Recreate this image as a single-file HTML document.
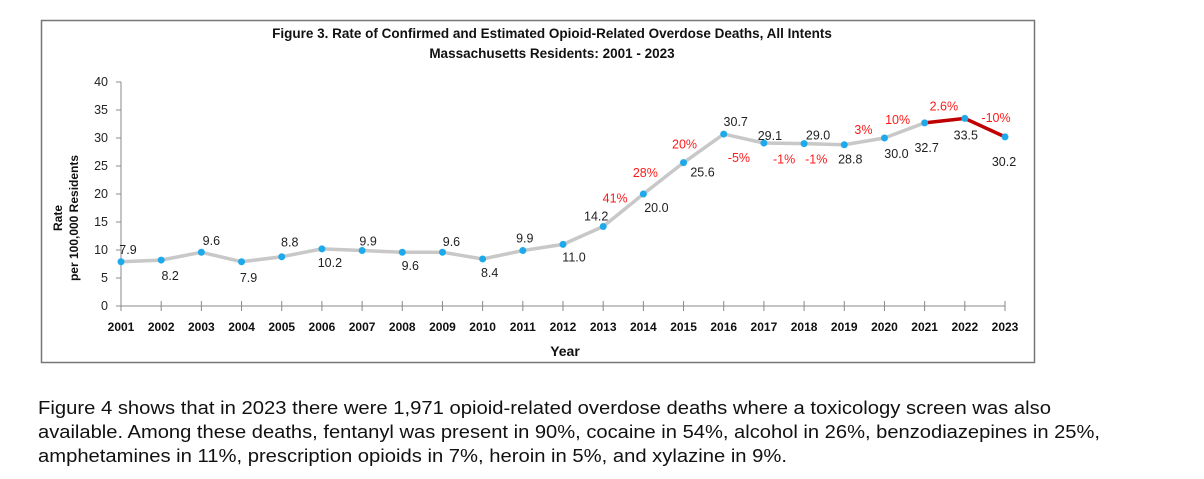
<!DOCTYPE html>
<html><head><meta charset="utf-8"><style>
body{margin:0;width:1204px;height:479px;background:#fff;overflow:hidden;font-family:"Liberation Sans",sans-serif}
</style></head><body>
<svg id="chart" width="1204" height="380" style="position:absolute;left:0;top:0">
<rect x="41.5" y="20.5" width="993" height="342" fill="#fff" stroke="#777" stroke-width="1.5"/>
<text x="552" y="38" text-anchor="middle" font-size="13.5" font-weight="bold" fill="#111">Figure 3. Rate of Confirmed and Estimated Opioid-Related Overdose Deaths, All Intents</text>
<text x="552" y="58" text-anchor="middle" font-size="13.5" font-weight="bold" fill="#111">Massachusetts Residents: 2001 - 2023</text>
<text transform="translate(62,218) rotate(-90)" text-anchor="middle" font-size="12" font-weight="bold" fill="#111">Rate</text>
<text transform="translate(78,218) rotate(-90)" text-anchor="middle" font-size="12" font-weight="bold" fill="#111">per 100,000 Residents</text>
<text x="565" y="356" text-anchor="middle" font-size="14" font-weight="bold" fill="#111">Year</text>
<g id="g"></g>
</svg>
<svg width="1204" height="99" style="position:absolute;left:0;top:380px" font-size="18" fill="#111">
<text x="38" y="34" textLength="1013" lengthAdjust="spacingAndGlyphs">Figure 4 shows that in 2023 there were 1,971 opioid-related overdose deaths where a toxicology screen was also</text>
<text x="38" y="58" textLength="1062" lengthAdjust="spacingAndGlyphs">available.  Among these deaths, fentanyl was present in 90%, cocaine in 54%, alcohol in 26%, benzodiazepines in 25%,</text>
<text x="38" y="82" textLength="749" lengthAdjust="spacingAndGlyphs">amphetamines in 11%, prescription opioids in 7%, heroin in 5%, and xylazine in 9%.</text>
</svg>
<script>
const years=[2001,2002,2003,2004,2005,2006,2007,2008,2009,2010,2011,2012,2013,2014,2015,2016,2017,2018,2019,2020,2021,2022,2023];
const rates=[7.9,8.2,9.6,7.9,8.8,10.2,9.9,9.6,9.6,8.4,9.9,11.0,14.2,20.0,25.6,30.7,29.1,29.0,28.8,30.0,32.7,33.5,30.2];
const pctYears=[2013,2014,2015,2017,2018,2019,2020,2021,2022,2023];
const pctLabels=["41%","28%","20%","-5%","-1%","-1%","3%","10%","2.6%","-10%"];
const yTicks=[0,5,10,15,20,25,30,35,40];
const labelDx=[7,9,10,7,8,8,6,8,9,7,2,11,-7,13,19,12,6,14,6,12,2,1,-1];
const labelDy=[-12,16,-11,16,-14,14,-9,14,-10,14,-12,13,-10,14,10,-12,-7,-8,15,16,25,17,25];
const pctDx=[12,2,1,-25,-20,-28,-21,-27,-21,-9];
const pctDy=[-28,-21,-18,15,16,15,-8,-3,-12,-19];
const NS="http://www.w3.org/2000/svg",g=document.getElementById('g');
const x=i=>121+i*(1005-121)/(years.length-1);
const y=v=>306-v*(224/40);
function mk(t,a,p){const e=document.createElementNS(NS,t);for(const k in a)e.setAttribute(k,a[k]);(p||g).appendChild(e);return e;}
let ax=mk('line',{x1:121,y1:306,x2:1005,y2:306,stroke:'#888'});


let ay=mk('line',{x1:121,y1:306,x2:121,y2:82,stroke:'#888'});


yTicks.forEach(t=>{
  mk('line',{x1:116,x2:121,y1:y(t),y2:y(t),stroke:'#888'});
  const e=mk('text',{x:108,y:y(t)+4,'text-anchor':'end','font-size':12.5,fill:'#222'});e.textContent=t;
  
  
});
years.forEach((yr,i)=>{
  mk('line',{x1:x(i),x2:x(i),y1:301,y2:311,stroke:'#888'});
  const e=mk('text',{x:x(i),y:331,'text-anchor':'middle','font-size':12,'font-weight':'bold',fill:'#111'});e.textContent=yr;
  
  
});
let pts=rates.slice(0,21).map((v,i)=>x(i)+','+y(v)).join(' ');
let gl=mk('polyline',{points:pts,fill:'none',stroke:'#c8c8c8','stroke-width':3.5});


let rp=rates.slice(20).map((v,i)=>x(i+20)+','+y(v)).join(' ');
let rl=mk('polyline',{points:rp,fill:'none',stroke:'#c00000','stroke-width':3.5});


rates.forEach((v,i)=>{
  const c=mk('circle',{cx:x(i),cy:y(v),r:3.5,fill:'#1eaaea'});
  
  
  const t=mk('text',{x:x(i)+labelDx[i],y:y(v)+labelDy[i]+4,'text-anchor':'middle','font-size':12.5,fill:'#222'});
  t.textContent=v.toFixed(1);
  
  
});
pctYears.forEach((yr,k)=>{
  const i=years.indexOf(yr);
  const t=mk('text',{x:x(i)+pctDx[k],y:y(rates[i])+pctDy[k]+4,'text-anchor':'middle','font-size':12.5,fill:'#ff1a1a'});
  t.textContent=pctLabels[k];
  
  
});
</script>
</body></html>
